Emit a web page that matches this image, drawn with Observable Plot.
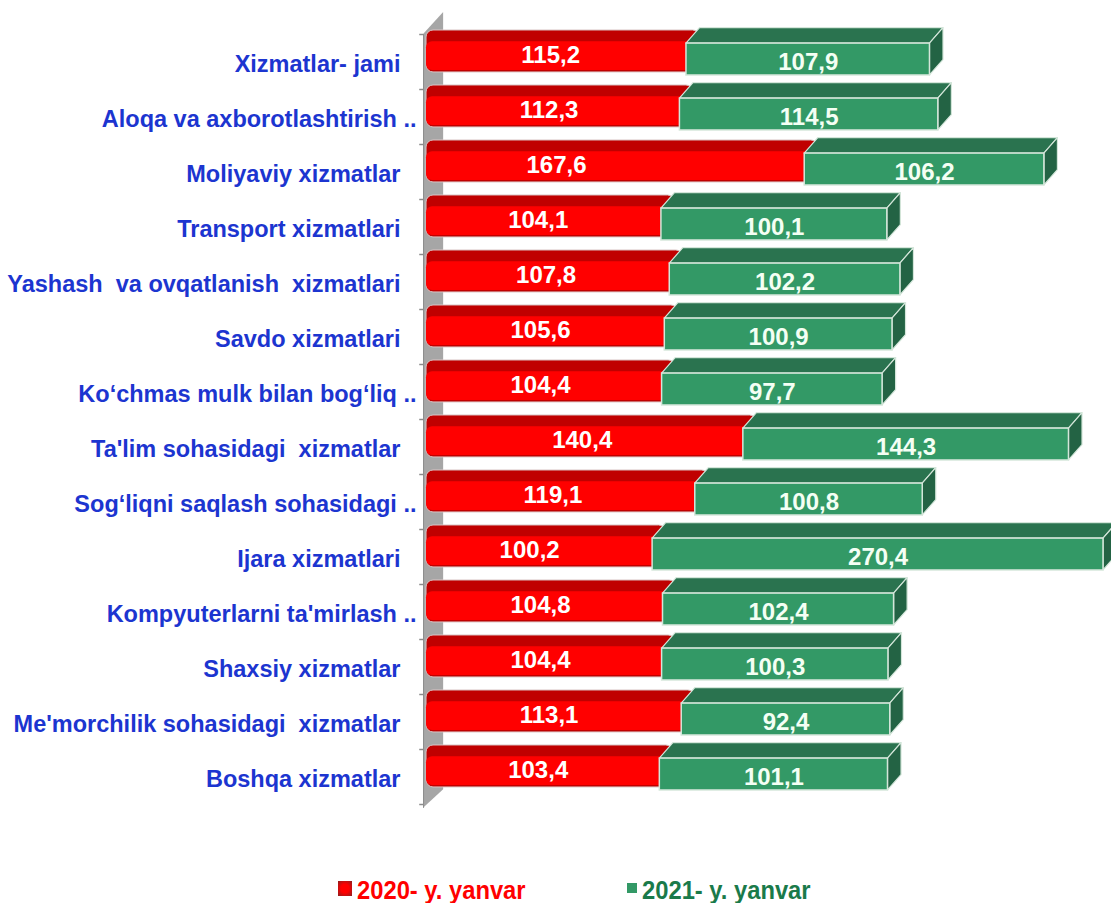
<!DOCTYPE html>
<html>
<head>
<meta charset="utf-8">
<script src="https://cdn.jsdelivr.net/npm/d3@7"></script>
<script src="https://cdn.jsdelivr.net/npm/@observablehq/plot@0.6"></script>
<style>
html,body{margin:0;padding:0;background:#fff;}
#chart svg{display:block;}
#legend{position:relative;height:33px;font:bold 25px "Liberation Sans Narrow","Liberation Sans",Arial,sans-serif;}
#legend span{position:absolute;top:6px;white-space:pre;line-height:28px;transform:scaleX(.95);transform-origin:0 50%;}
#legend i{position:absolute;display:block;}
</style>
</head>
<body>
<div id="chart"></div>
<div id="legend">
  <i style="left:338px;top:11px;width:14px;height:15px;background:radial-gradient(#ff0000 40%,#8a2020);"></i>
  <span style="left:357px;color:#ff0000;">2020- y. yanvar</span>
  <i style="left:627px;top:13px;width:10px;height:10px;background:#339966;"></i>
  <span style="left:642px;color:#1a7a4a;">2021- y. yanvar</span>
</div>
<script>
const categories = [
  "Xizmatlar- jami","Aloqa va axborotlashtirish ..","Moliyaviy xizmatlar","Transport xizmatlari",
  "Yashash  va ovqatlanish  xizmatlari","Savdo xizmatlari","Ko‘chmas mulk bilan bog‘liq ..",
  "Ta'lim sohasidagi  xizmatlar","Sog‘liqni saqlash sohasidagi ..","Ijara xizmatlari",
  "Kompyuterlarni ta'mirlash ..","Shaxsiy xizmatlar","Me'morchilik sohasidagi  xizmatlar","Boshqa xizmatlar"
];
const values2020 = [115.2,112.3,167.6,104.1,107.8,105.6,104.4,140.4,119.1,100.2,104.8,104.4,113.1,103.4];
const values2021 = [107.9,114.5,106.2,100.1,102.2,100.9,97.7,144.3,100.8,270.4,102.4,100.3,92.4,101.1];
// where the 2020 labels sit on the value axis in the original (they are not exactly centred)
const labelAt2020 = [55,54.3,57.6,49.5,53,50.5,50.5,69,56,45.7,50.5,50.5,54.3,49.5];
const axisMax = 300;   // the original value axis stops here, so the 270,4 bar is cut off

const fmt = v => v.toFixed(1).replace(".", ",");
const rows = categories.map((name, i) => ({
  name, i, a: values2020[i], b: values2021[i], labelAt: labelAt2020[i],
  start: values2020[i], end: Math.min(values2020[i] + values2021[i], axisMax)
}));

// 3D look, in scale units
const depthX = 6, depthY = 0.28;
const gTop = 0.165, gBot = 0.745, rTop = -0.073, rBand = 0.13, rBot = 0.69, rShade = 0.655;

const topFace = rows.flatMap(d => [
  {i: d.i, x1: d.start, x2: d.end, y: d.i + gTop},
  {i: d.i, x1: d.start + depthX, x2: d.end + depthX, y: d.i + gTop - depthY}
]);
const sideFace = rows.flatMap(d => [
  {i: d.i, x: d.end, y1: d.i + gTop, y2: d.i + gBot},
  {i: d.i, x: d.end + depthX, y1: d.i + gTop - depthY, y2: d.i + gBot - depthY}
]);
const wall = [
  {x: -1.3, y1: 0, y2: 14.07},
  {x: 7.6, y1: -0.4, y2: 13.73}
];
const font = '"Liberation Sans Narrow","Liberation Sans",Arial,sans-serif';
const edge = "#d4e6da";

const chart = Plot.plot({
  width: 1111, height: 870,
  margin: 0,
  style: {background: "transparent", overflow: "visible"},
  x: {domain: [0, axisMax], range: [426, 1103], axis: null},
  y: {domain: [0, 14], range: [34, 804], axis: null},
  marks: [
    Plot.area(wall, {x1: "x", x2: "x", y1: "y1", y2: "y2", fill: "#a6a6a6", curve: "linear"}),
    Plot.ruleY(d3.range(15), {x1: -3, x2: -1.3, stroke: "#8c8c8c", strokeWidth: 1.5}),
    Plot.ruleX([-1.3], {y1: 0, y2: 14.07, stroke: "#8c8c8c", strokeWidth: 1}),

    // 2020 bars: rounded tube with a dark top band; the right end runs under the green box
    Plot.rect(rows, {x1: 0, x2: d => d.start + depthX, y1: d => d.i + rTop, y2: d => d.i + rBot, fill: "#c00000", stroke: "#d9c4c4", strokeWidth: 1, rx: 7}),
    Plot.rect(rows, {x1: 0, x2: d => d.start + depthX, y1: d => d.i + rBand, y2: d => d.i + rShade, fill: "#ff0000", rx: 6}),

    // 2021 bars: box with top and side faces
    Plot.area(topFace, {x1: "x1", x2: "x2", y1: "y", y2: "y", z: "i", fill: "#2a734f", stroke: edge, strokeWidth: 1.2, curve: "linear"}),
    Plot.area(sideFace, {x1: "x", x2: "x", y1: "y1", y2: "y2", z: "i", fill: "#236344", stroke: edge, strokeWidth: 1.2, curve: "linear"}),
    Plot.rect(rows, {x1: "start", x2: "end", y1: d => d.i + gTop, y2: d => d.i + gBot, fill: "#339966", stroke: edge, strokeWidth: 1.5}),

    Plot.text(rows, {x: "labelAt", y: d => d.i + 0.37, text: d => fmt(d.a), fill: "#fff", fontFamily: font, fontWeight: "bold", fontSize: 24}),
    Plot.text(rows, {x: d => (d.start + d.end) / 2, y: d => d.i + 0.51, text: d => fmt(d.b), fill: "#f4fff4", fontFamily: font, fontWeight: "bold", fontSize: 24}),

    Plot.text(rows.filter(d => !d.name.endsWith("..")), {x: 0, dx: -26, y: d => d.i + 0.545, text: "name", textAnchor: "end", fill: "#1c35d0", fontFamily: font, fontWeight: "bold", fontSize: 23.5, lineWidth: Infinity}),
    Plot.text(rows.filter(d => d.name.endsWith("..")), {x: 0, dx: -10, y: d => d.i + 0.545, text: "name", textAnchor: "end", fill: "#1c35d0", fontFamily: font, fontWeight: "bold", fontSize: 23.5, lineWidth: Infinity})
  ]
});
document.getElementById("chart").append(chart);
</script>
</body>
</html>
